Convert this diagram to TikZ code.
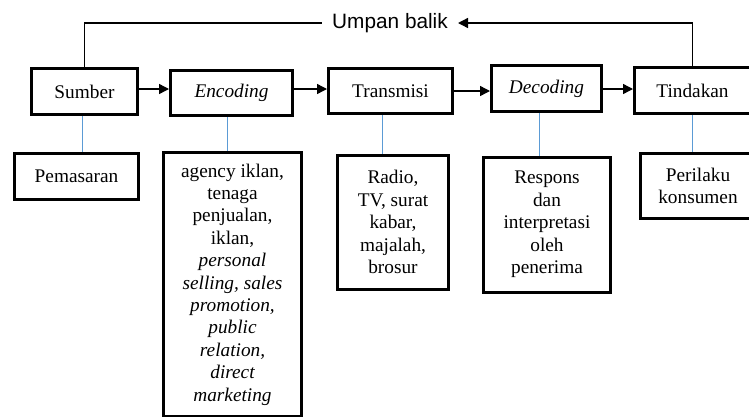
\documentclass[tikz,border=0pt]{standalone}
\usepackage{fontspec}
\setmainfont{Liberation Serif}
\newfontfamily\umpanfont{Liberation Sans}
\usetikzlibrary{arrows.meta}
\definecolor{linkblue}{RGB}{91,155,213}
\begin{document}
\begin{tikzpicture}[x=1pt,y=-1pt, % model komunikasi pemasaran
    box/.style={draw,line width=3pt,align=center,inner sep=0pt,
      font=\fontsize{19.3}{22.4}\selectfont},
    flow/.style={line width=1.4pt,-{Triangle[length=10pt,width=10pt]}},
    link/.style={draw=linkblue,line width=1pt}]
      \useasboundingbox (0,0) rectangle (749,416);
      \clip (0,0) rectangle (749,416);
      \node[box,minimum width=106pt,minimum height=46pt] (sumber) at (84.5,91.5) {Sumber};
      \node[box,minimum width=122pt,minimum height=45pt] (encoding) at (231.5,93) {\itshape Encoding};
      \node[box,minimum width=124pt,minimum height=45pt] (transmisi) at (390.5,91) {Transmisi};
      \node[box,minimum width=110pt,minimum height=46pt] (decoding) at (546.5,88.5) {\itshape Decoding};
      \node[box,minimum width=116pt,minimum height=46pt] (tindakan) at (692.5,90.5) {Tindakan};
      \node[box,minimum width=124pt,minimum height=46pt] (pemasaran) at (76.5,176.5) {Pemasaran};
      \node[box,minimum width=138pt,minimum height=264pt] (agency) at (232.5,284.5)
	{agency iklan,\\ tenaga\\ penjualan,\\ iklan,\\ \itshape personal\\
	 \itshape selling, sales\\ \itshape promotion,\\ \itshape public\\
	 \itshape relation,\\ \itshape direct\\ \itshape marketing};
      \node[box,minimum width=111pt,minimum height=134pt] (radio) at (393,222)
	{Radio,\\ TV, surat\\ kabar,\\ majalah,\\ brosur};
      \node[box,minimum width=127pt,minimum height=135pt] (respons) at (547,224.5)
	{Respons\\ dan\\ interpretasi\\ oleh\\ penerima};
      \node[box,minimum width=115pt,minimum height=65pt] (perilaku) at (698,186)
	{Perilaku\\ konsumen};
      \node[font=\umpanfont\fontsize{20.8}{24}\selectfont,inner sep=10pt] (umpan) at (390,23) {Umpan balik};
      \foreach \a/\b/\s in {sumber/encoding/2.5,encoding/transmisi/4,transmisi/decoding/0,
	decoding/tindakan/-0.5}
      {
	\draw[flow] ([yshift=\s pt]\a.east) -- ([yshift=\s pt]\a.east -| \b.west);
      };
      \foreach \a/\b/\s in {sumber/pemasaran/-2.5,encoding/agency/-4.5,transmisi/radio/-8.5,
	decoding/respons/-7.5,tindakan/perilaku/0}
      {
	\draw[link] ([xshift=\s pt]\a.south) -- ([xshift=\s pt]\a.south |- \b.north);
      };
      \draw[line width=1.4pt] (sumber.north) |- (umpan.west);
      \draw[flow] (tindakan.north) |- (umpan.east);
    \end{tikzpicture}
\end{document}
